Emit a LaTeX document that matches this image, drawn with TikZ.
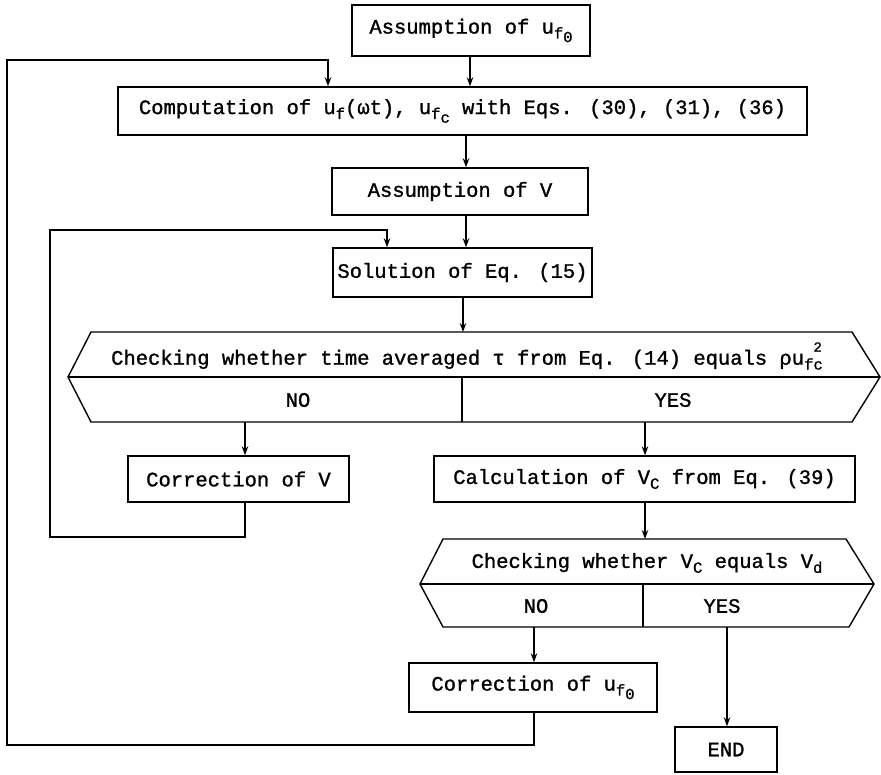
\documentclass[tikz,border=0pt]{standalone}
\usepackage{fontspec}
\setmainfont{Liberation Mono}[FakeBold=1.2]
\usetikzlibrary{arrows.meta}
\newcommand\lo[1]{\raisebox{-0.45ex}{\fontsize{15.5}{15.5}\selectfont #1}}
\newcommand\hi[1]{\raisebox{1.2ex}{\fontsize{14}{14}\selectfont #1}}
\tikzset{
  ln/.style={line width=1.4pt, line join=miter},
  arr/.style={ln, -{Stealth[length=9pt,width=6.5pt]}},
  box/.style={ln, draw, rectangle, inner sep=0pt, anchor=center},
  txt/.style={inner sep=0pt, anchor=center}
}
\begin{document}
\begin{tikzpicture}[x=1pt,y=-1pt,font=\fontsize{20.5}{24}\selectfont]
\useasboundingbox (0,0) rectangle (881,774);
% boxes
\node[box, minimum width=238pt, minimum height=51pt] (b1) at (471,30.5) {Assumption of u\lo{f\lo{0}}};
\node[box, minimum width=689pt, minimum height=48pt] (b2) at (462.5,111) {Computation of u\lo{f}(ωt), u\lo{f\lo{c}} with Eqs. (30), (31), (36)};
\node[box, minimum width=256pt, minimum height=47pt] (b3) at (460,191.5) {Assumption of V};
\node[box, minimum width=259pt, minimum height=49pt] (b4) at (462.5,272.5) {Solution of Eq. (15)};
\node[box, minimum width=221pt, minimum height=46pt] (cv) at (238.5,479) {Correction of V};
\node[box, minimum width=421pt, minimum height=46pt] (calc) at (644.5,479) {Calculation of V\lo{C} from Eq. (39)};
\node[box, minimum width=248pt, minimum height=49pt] (cu) at (533,687.5) {Correction of u\lo{f\lo{0}}};
\node[box, minimum width=102pt, minimum height=45pt] (end) at (726,749.5) {END};
% decision 1
\coordinate (h1l) at (68,377);
\coordinate (h1r) at (880,377);
\coordinate (h1t) at (463,332);
\coordinate (h1d) at (462,377);
\coordinate (h1nox) at (245,422);
\coordinate (h1yesx) at (645,422);
\draw[ln] (h1l) -- (91,332) -- (852,332) -- (h1r) -- (852,422) -- (91,422) -- cycle;
\draw[ln] (h1l) -- (h1r);
\draw[ln] (h1d) -- (462,422);
\node[txt] (h1q) at (467,356) {Checking whether time averaged τ from Eq. (14) equals ρu\lo{f}\rlap{\hi{2}}\lo{c}};
\node[txt] (h1no) at (298,400) {NO};
\node[txt] (h1yes) at (673,400) {YES};
% decision 2
\coordinate (h2l) at (420,584);
\coordinate (h2r) at (874,584);
\coordinate (h2t) at (645,539);
\coordinate (h2d) at (643,584);
\coordinate (h2nox) at (534,627);
\coordinate (h2yesx) at (727,627);
\draw[ln] (h2l) -- (443,539) -- (846,539) -- (h2r) -- (849,627) -- (443,627) -- cycle;
\draw[ln] (h2l) -- (h2r);
\draw[ln] (h2d) -- (643,627);
\node[txt] (h2q) at (647,563) {Checking whether V\lo{C} equals V\lo{d}};
\node[txt] (h2no) at (536,606) {NO};
\node[txt] (h2yes) at (722,606) {YES};
% loop coordinates
\coordinate (l1a) at (7,745);
\coordinate (l1c) at (328,60);
\coordinate (l2a) at (50,537);
\coordinate (l2c) at (387,230);
% connectors
\draw[arr] (b1.south -| 470,0) -- (b2.north -| 470,0);
\draw[arr] (b2.south -| 466,0) -- (b3.north -| 466,0);
\draw[arr] (b3.south -| 466,0) -- (b4.north -| 466,0);
\draw[arr] (b4.south -| h1t) -- (h1t);
\draw[arr] (h1nox) -- (cv.north -| h1nox);
\draw[arr] (h1yesx) -- (calc.north -| h1yesx);
\draw[arr] (calc.south -| h2t) -- (h2t);
\draw[arr] (h2nox) -- (cu.north -| h2nox);
\draw[arr] (h2yesx) -- (end.north -| h2yesx);
\draw[arr] (cv.south -| h1nox) |- (l2a) |- (l2c) -- (l2c |- b4.north);
\draw[arr] (cu.south -| h2nox) |- (l1a) |- (l1c) -- (l1c |- b2.north);
\end{tikzpicture}
\end{document}
